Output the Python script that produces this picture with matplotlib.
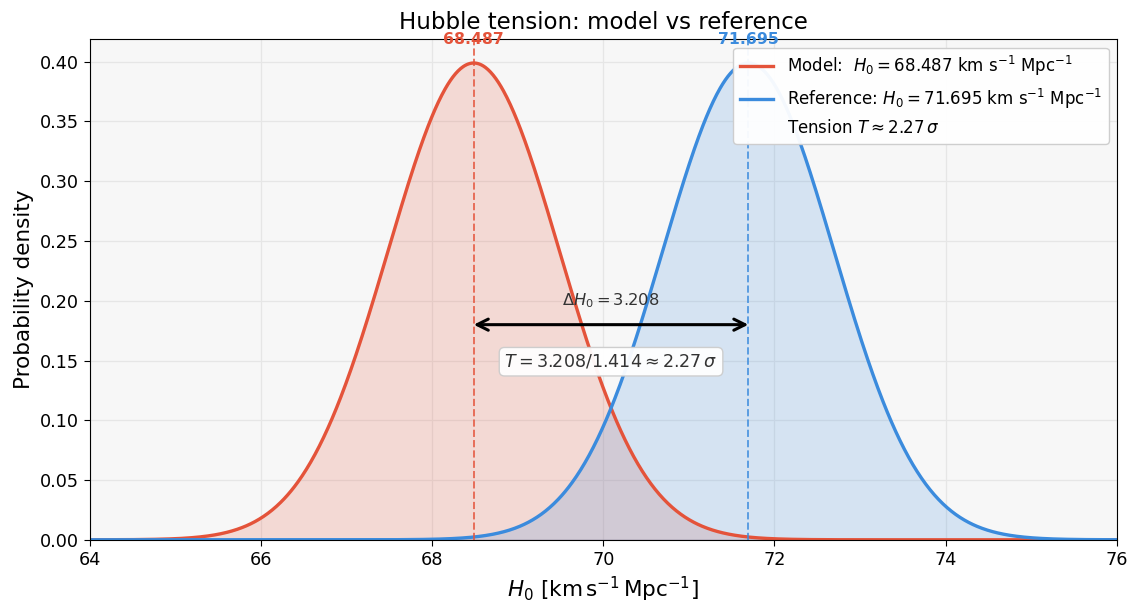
import numpy as np
import matplotlib.pyplot as plt

# Hubble constant estimates [km s^-1 Mpc^-1]
h0_model = 68.487
h0_ref = 71.695
sigma_model = 1.0
sigma_ref = 1.0

red = '#e4533a'
blue = '#3b8bdd'


def gauss(x, mu, sig):
    return np.exp(-0.5 * ((x - mu) / sig) ** 2) / (sig * np.sqrt(2 * np.pi))


x = np.linspace(64, 76, 1200)
pdf_model = gauss(x, h0_model, sigma_model)
pdf_ref = gauss(x, h0_ref, sigma_ref)

delta = h0_ref - h0_model
sigma_comb = np.sqrt(sigma_model ** 2 + sigma_ref ** 2)
tension = delta / sigma_comb

fig, ax = plt.subplots(figsize=(11.35, 6.12), dpi=100)
fig.subplots_adjust(left=0.079, right=0.984, top=0.936, bottom=0.118)
ax.set_facecolor('#f7f7f7')

ax.plot(x, pdf_model, color=red, lw=2.4,
        label=r'Model:  $H_0 = %.3f$ km s$^{-1}$ Mpc$^{-1}$' % h0_model)
ax.fill_between(x, pdf_model, color=red, alpha=0.18)
ax.plot(x, pdf_ref, color=blue, lw=2.4,
        label=r'Reference: $H_0 = %.3f$ km s$^{-1}$ Mpc$^{-1}$' % h0_ref)
ax.fill_between(x, pdf_ref, color=blue, alpha=0.18)
ax.plot([], [], color='none', label=r'Tension $T \approx %.2f\,\sigma$' % tension)

ymax = gauss(0, 0, min(sigma_model, sigma_ref)) * 1.05
ax.set_xlim(64, 76)
ax.set_ylim(0, ymax)

ax.axvline(h0_model, color=red, ls='--', lw=1.4, alpha=0.8)
ax.axvline(h0_ref, color=blue, ls='--', lw=1.4, alpha=0.8)
ax.text(h0_model, ymax, '%.3f' % h0_model, color=red, fontsize=11.3,
        fontweight='bold', ha='center', va='center')
ax.text(h0_ref, ymax, '%.3f' % h0_ref, color=blue, fontsize=11.3,
        fontweight='bold', ha='center', va='center')

# separation arrow and tension box
y_arrow = 0.18
ax.annotate('', xy=(h0_ref, y_arrow), xytext=(h0_model, y_arrow),
            arrowprops=dict(arrowstyle='<->', color='black', lw=2.2,
                            mutation_scale=20, shrinkA=0, shrinkB=0))
ax.text((h0_model + h0_ref) / 2, 0.2, r'$\Delta H_0 = %.3f$' % delta,
        ha='center', va='center', fontsize=11.7, color='#333333')
ax.text((h0_model + h0_ref) / 2, 0.149,
        r'$T = %.3f / %.3f \approx %.2f\,\sigma$' % (delta, sigma_comb, tension),
        ha='center', va='center', fontsize=12.6, color='#333333',
        bbox=dict(boxstyle='round,pad=0.3', fc='white', ec='#cccccc', alpha=0.95))

ax.grid(True, color='#e6e6e6', lw=0.9)
ax.set_axisbelow(True)
ax.tick_params(labelsize=12.7, length=4.5)
ax.set_xlabel(r'$H_0$ [km$\,$s$^{-1}\,$Mpc$^{-1}$]', fontsize=15.5)
ax.set_ylabel('Probability density', fontsize=15.5)
ax.set_title('Hubble tension: model vs reference', fontsize=16.5, pad=7)
ax.legend(loc='upper right', fontsize=12, framealpha=0.95, handlelength=2.0,
          borderaxespad=0.5)

fig.savefig('out.png', dpi=100)
